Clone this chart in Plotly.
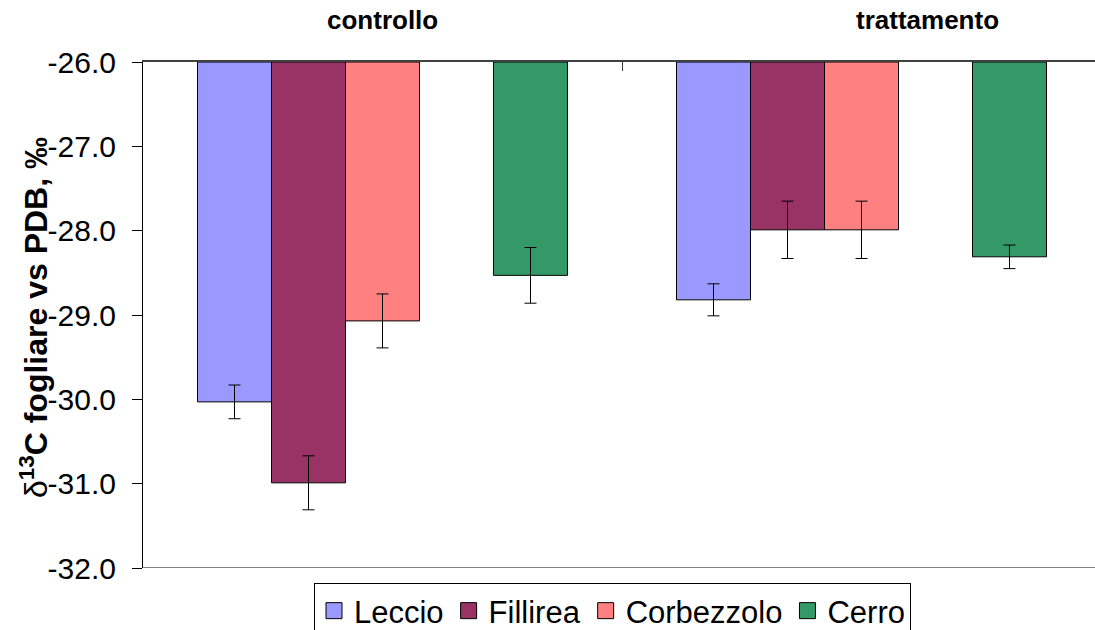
import plotly.graph_objects as go

categories = ["controllo", "trattamento"]
series_names = ["Leccio", "Fillirea", "Corbezzolo", "Cerro"]
colors = ["#9999FF", "#993366", "#FF8080", "#339966"]

leccio = [-30.03, -28.82]
fillirea = [-30.99, -27.99]
corbezzolo = [-29.07, -27.99]
cerro = [-28.53, -28.31]

leccio_err = [0.20, 0.19]
fillirea_err = [0.32, 0.34]
corbezzolo_err = [0.32, 0.34]
cerro_err = [0.33, 0.14]

y_ticks = [-26, -27, -28, -29, -30, -31, -32]
BASE = -26.0

values = [leccio, fillirea, corbezzolo, cerro]
errors = [leccio_err, fillirea_err, corbezzolo_err, cerro_err]

FONT = "Liberation Sans, Arial, sans-serif"

W, H = 1095, 630
PL, PT, PB = 143, 62, 568   # plot-area edges in px
PW, PH = W - PL, PB - PT

fig = go.Figure()

def add_bar(name, vals, errs, color):
    fig.add_trace(go.Bar(
        name=name,
        x=categories,
        y=[v - BASE for v in vals],
        base=BASE,
        marker=dict(color=color, line=dict(color="black", width=1)),
        error_y=dict(type="data", array=errs, visible=True, color="black",
                     thickness=1, width=6),
        showlegend=False,
        legendgroup=name,
    ))

for i in range(3):
    add_bar(series_names[i], values[i], errors[i], colors[i])
# empty slot between Corbezzolo and Cerro (as in the original chart)
fig.add_trace(go.Bar(name="gap", x=categories, y=[None, None], base=BASE,
                     showlegend=False, hoverinfo="skip"))
add_bar(series_names[3], values[3], errors[3], colors[3])

# legend entries
for name, color in zip(series_names, colors):
    fig.add_trace(go.Scatter(
        x=[None], y=[None], mode="markers", name=name, legendgroup=name,
        marker=dict(symbol="square", size=16, color=color,
                    line=dict(color="black", width=1)),
        showlegend=True,
    ))

def px_x(p):  # px -> paper x
    return (p - PL) / PW

def px_y(p):  # px -> paper y
    return (PB - p) / PH

fig.update_layout(
    width=W, height=H,
    margin=dict(l=PL, r=0, t=PT, b=H - PB, autoexpand=False),
    paper_bgcolor="white", plot_bgcolor="white",
    barmode="group", bargap=0.2276, bargroupgap=0,
    font=dict(family=FONT, size=30, color="black"),
    showlegend=True,
    legend=dict(orientation="h", x=px_x(314), xanchor="left", y=px_y(583), yanchor="top",
                bordercolor="black", borderwidth=1, bgcolor="white",
                font=dict(family=FONT, size=31, color="black"),
                itemclick=False, itemdoubleclick=False),
    xaxis=dict(
        type="category", side="top",
        range=[-0.5, -0.5 + PW / 479],
        showticklabels=False, tickson="boundaries", ticks="inside",
        ticklen=9, tickcolor="#404040", tickwidth=1,
        showline=True, linecolor="#404040", linewidth=2,
        showgrid=False, zeroline=False, fixedrange=True,
    ),
    yaxis=dict(
        range=[-32, -26], tickvals=y_ticks,
        ticktext=["%.1f" % t for t in y_ticks],
        ticks="outside", ticklen=10, tickcolor="black", tickwidth=1,
        ticklabelstandoff=10,
        showline=True, linecolor="black", linewidth=1,
        showgrid=False, zeroline=False, fixedrange=True,
        tickfont=dict(family=FONT, size=30, color="black"),
    ),
    shapes=[dict(type="line", xref="paper", yref="y", x0=0, x1=1, y0=-32, y1=-32,
                 line=dict(color="#808080", width=2), layer="below")],
    annotations=[
        dict(text="δ<b><sup>13</sup>C fogliare vs PDB, ‰</b>", xref="paper", yref="paper",
             x=px_x(34), y=px_y(318), xanchor="center", yanchor="middle", textangle=-90,
             showarrow=False, font=dict(family=FONT, size=32, color="black")),
        dict(text="<b>controllo</b>", xref="paper", yref="paper",
             x=px_x(382), y=px_y(20), xanchor="center", yanchor="middle",
             showarrow=False, font=dict(family=FONT, size=26, color="black")),
        dict(text="<b>trattamento</b>", xref="paper", yref="paper",
             x=px_x(927), y=px_y(20), xanchor="center", yanchor="middle",
             showarrow=False, font=dict(family=FONT, size=26, color="black")),
    ],
)

fig.write_html(
    "out.html",
    config={"displayModeBar": False},
    post_script="document.body.style.margin='0';document.body.style.overflow='hidden';",
)
